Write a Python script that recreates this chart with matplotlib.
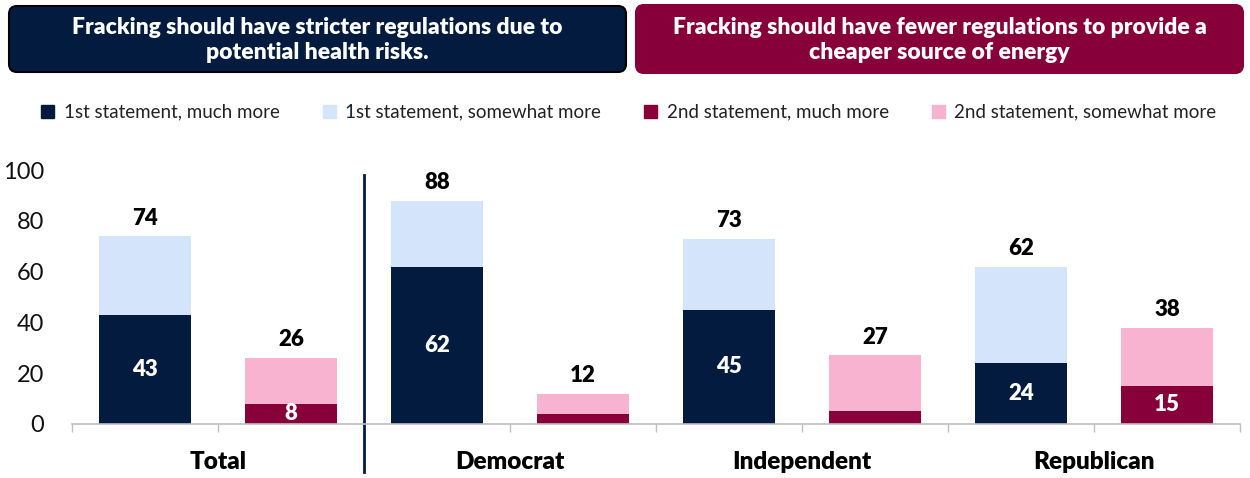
import matplotlib
matplotlib.use('Agg')
import matplotlib.pyplot as plt
from matplotlib.patches import FancyBboxPatch, Patch
import numpy as np

plt.rcParams['font.family'] = ['Lato', 'DejaVu Sans']

# データ
groups = ['Total', 'Democrat', 'Independent', 'Republican']
first_much = [43, 62, 45, 24]
first_some = [31, 26, 28, 38]
second_much = [8, 4, 5, 15]
second_some = [18, 8, 22, 23]
first_total = [74, 88, 73, 62]
second_total = [26, 12, 27, 38]

headers = [
    'Fracking should have stricter regulations due to\npotential health risks.',
    'Fracking should have fewer regulations to provide a\ncheaper source of energy',
]
legend_labels = [
    '1st statement, much more',
    '1st statement, somewhat more',
    '2nd statement, much more',
    '2nd statement, somewhat more',
]

NAVY = '#021b3f'
LBLUE = '#d3e4fb'
MAROON = '#88003a'
PINK = '#f8b3d0'

fig = plt.figure(figsize=(12.5, 4.78), dpi=100)
ax = fig.add_axes([0.0576, 0.113, 0.9344, 0.531])

x1 = np.arange(len(groups)) * 2 + 0.5
x2 = x1 + 1
w = 0.63

ax.bar(x1, first_much, w, color=NAVY)
ax.bar(x1, first_some, w, bottom=first_much, color=LBLUE)
ax.bar(x2, second_much, w, color=MAROON)
ax.bar(x2, second_some, w, bottom=second_much, color=PINK)

# ラベル
for i in range(len(groups)):
    ax.text(x1[i], first_total[i] + 3, str(first_total[i]), ha='center', va='bottom',
            fontsize=16, fontweight='heavy', color='black')
    ax.text(x2[i], second_total[i] + 3, str(second_total[i]), ha='center', va='bottom',
            fontsize=16, fontweight='heavy', color='black')
    if first_much[i] >= 8:
        ax.text(x1[i], first_much[i] / 2, str(first_much[i]), ha='center', va='center',
                fontsize=16, fontweight='heavy', color='white')
    if second_much[i] >= 8:
        ax.text(x2[i], second_much[i] / 2, str(second_much[i]), ha='center', va='center',
                fontsize=16, fontweight='heavy', color='white')
    ax.text(x1[i] + 0.5, -15, groups[i], ha='center', va='center',
            fontsize=17.5, fontweight='heavy', color='black', clip_on=False)

ax.set_xlim(0, 8)
ax.set_ylim(0, 100)
ax.set_yticks([0, 20, 40, 60, 80, 100])
ax.tick_params(axis='y', length=0, labelsize=17, pad=20, labelcolor='#111111')
ax.set_xticks(np.arange(0, 9))
ax.set_xticklabels([])
ax.tick_params(axis='x', length=6, direction='out', color='#bfbfbf', width=1)
for s in ['top', 'right', 'left']:
    ax.spines[s].set_visible(False)
ax.spines['bottom'].set_color('#bfbfbf')
ax.spines['bottom'].set_linewidth(1.2)

# 区切り線
ax.plot([2, 2], [-19, 98], color=NAVY, linewidth=2, clip_on=False)

# ヘッダー
hax = fig.add_axes([0, 0, 1, 1])
hax.set_xlim(0, 1250)
hax.set_ylim(478, 0)
hax.axis('off')
hax.patch.set_alpha(0)
boxes = [(9, 6, 617, 66, NAVY, 'black'), (636, 5, 607, 68, MAROON, MAROON)]
for (bx, by, bw, bh, fc, ec), txt in zip(boxes, headers):
    hax.add_patch(FancyBboxPatch((bx + 8, by + 8), bw - 16, bh - 16,
                                 boxstyle='round,pad=8', fc=fc, ec=ec, lw=1.5))
    hax.text(bx + bw / 2, by + bh / 2 + 1, txt, ha='center', va='center', color='white',
             fontsize=16.5, fontweight='heavy', linespacing=1.2)

handles = [Patch(color=c) for c in [NAVY, LBLUE, MAROON, PINK]]
fig.legend(handles, legend_labels, loc='center', bbox_to_anchor=(0.503, 0.765), ncol=4,
           frameon=False, fontsize=13.5, handlelength=0.7, handleheight=0.7,
           handletextpad=0.5, columnspacing=2.3, labelcolor='#222222')

fig.savefig('out.png', dpi=100)
